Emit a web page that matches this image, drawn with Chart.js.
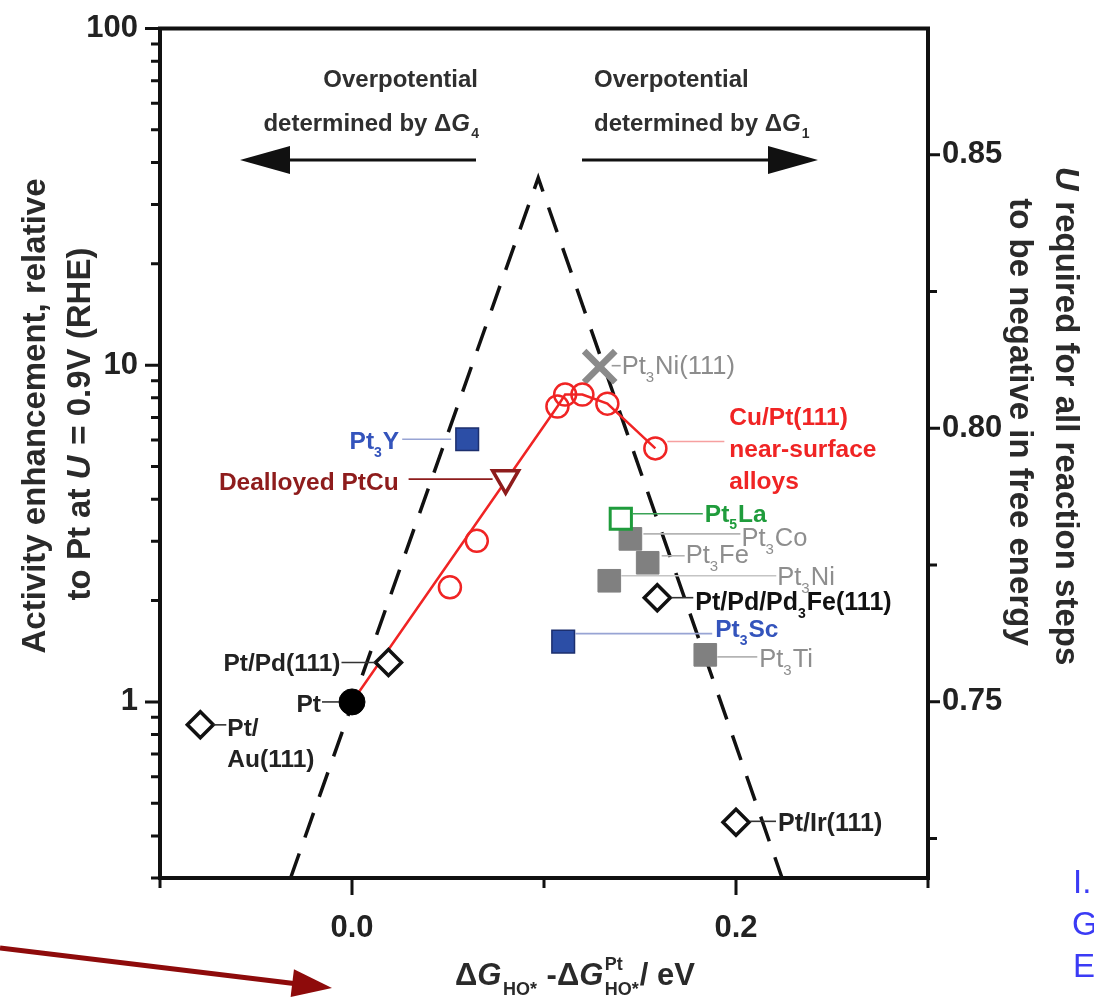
<!DOCTYPE html>
<html>
<head>
<meta charset="utf-8">
<script src="https://cdn.jsdelivr.net/npm/chart.js@4.4.0/dist/chart.umd.min.js"></script>
<style>
  html, body { margin: 0; padding: 0; background: #fff; }
  #wrap { width: 1094px; height: 1001px; position: relative; }
</style>
</head>
<body>
<div id="wrap"><canvas id="chart" width="1094" height="1001"></canvas></div>
<script>
/* ---------- Data ---------- */
// x = dG(HO*) - dG(HO*, Pt) in eV, y = activity enhancement relative to Pt
const PT_X = [0];
const PT_Y = [1];

// open diamonds: Pt/Au(111), Pt/Pd(111), Pt/Pd/Pd3Fe(111), Pt/Ir(111)
const DIAMOND_X = [-0.079, 0.019, 0.159, 0.200];
const DIAMOND_Y = [0.855, 1.31, 2.04, 0.439];

// Cu/Pt(111) near-surface alloys
const CU_X = [0.051, 0.065, 0.107, 0.111, 0.120, 0.133, 0.158];
const CU_Y = [2.19, 3.01, 7.54, 8.18, 8.18, 7.69, 5.66];

// red line through the Cu/Pt(111) set, starting at Pt
const FIT_X = [0, 0.107, 0.111, 0.120, 0.133, 0.158];
const FIT_Y = [1, 7.54, 8.18, 8.18, 7.69, 5.66];

const DEALLOY_X = [0.080];
const DEALLOY_Y = [4.62];

// grey bulk alloys: Pt3Co, Pt3Fe, Pt3Ni, Pt3Ti
const GREY_X = [0.145, 0.154, 0.134, 0.184];
const GREY_Y = [3.05, 2.59, 2.29, 1.38];

// blue: Pt3Y, Pt3Sc
const BLUE_X = [0.060, 0.110];
const BLUE_Y = [6.03, 1.51];

const LA_X = [0.140];
const LA_Y = [3.50];

const NI111_X = [0.129];
const NI111_Y = [9.9];

// dashed volcano
const VOLCANO_X = [-0.032, 0.097, 0.224];
const VOLCANO_Y = [0.3, 36.0, 0.3];

/* ---------- Axes ---------- */
const X_TICKS = [-0.1, 0, 0.1, 0.2, 0.3];
const X_TICK_LABELS = ['', '0.0', '', '0.2', ''];
const Y_TICKS = [0.3, 0.4, 0.5, 0.6, 0.7, 0.8, 0.9, 1, 2, 3, 4, 5, 6, 7, 8, 9,
                 10, 20, 30, 40, 50, 60, 70, 80, 90, 100];
const Y_MAJOR = [1, 10, 100];
const U_TICKS = [0.725, 0.75, 0.775, 0.80, 0.825, 0.85];
const U_MAJOR = [0.75, 0.80, 0.85];
const U_MIN = 0.7178, U_MAX = 0.8731;

const FONT = '"Liberation Sans", Arial, Helvetica, sans-serif';
const RED = '#f02424';
const GREY = '#808080';
const BLUE = '#2c4ea6';
const GREEN = '#1f9c3c';
const DARKRED = '#8e1c1c';

const pts = (xs, ys) => xs.map((x, i) => ({x: x, y: ys[i]}));

/* ---------- Labels next to the markers (pixel offsets from marker) ---------- */
const LB = 24.5;   // bold label size
const LG = 25.5;   // grey label size
const LABELS = [
  {ds: 'diamond', i: 0, line: [13, 26, 0], tx: 27, ty: 2, align: 'left', color: '#222', bold: true, size: LB, lines: [['Pt/'], ['Au(111)']], gap: 31},
  {ds: 'pt', i: 0, line: [-30, -13, 0], tx: -31, ty: 1, align: 'right', color: '#222', bold: true, size: LB, lines: [['Pt']]},
  {ds: 'diamond', i: 1, line: [-47, -13, 0], tx: -48, ty: 0, align: 'right', color: '#222', bold: true, size: LB, lines: [['Pt/Pd(111)']]},
  {ds: 'diamond', i: 2, line: [14, 36, 0], tx: 38, ty: 3, align: 'left', color: '#111', bold: true, size: 25, lines: [['Pt/Pd/Pd', {sub: '3'}, 'Fe(111)']]},
  {ds: 'diamond', i: 3, line: [14, 40, -1], tx: 42, ty: 0, align: 'left', color: '#222', bold: true, size: 25, lines: [['Pt/Ir(111)']]},
  {ds: 'blue', i: 0, line: [-65, -16, 0], lineColor: '#98a4d4', tx: -68, ty: 1, align: 'right', color: '#3454bc', bold: true, size: LB, lines: [['Pt', {sub: '3'}, 'Y']]},
  {ds: 'blue', i: 1, line: [12, 149, -8], lineColor: '#98a4d4', tx: 152, ty: -13, align: 'left', color: '#3454bc', bold: true, size: LB, lines: [['Pt', {sub: '3'}, 'Sc']]},
  {ds: 'dealloy', i: 0, line: [-97, -13, 1], lineColor: DARKRED, tx: -107, ty: 3, align: 'right', color: DARKRED, bold: true, size: LB, lines: [['Dealloyed PtCu']]},
  {ds: 'ni111', i: 0, line: [12, 21, -1], lineColor: '#999', tx: 22, ty: -2, align: 'left', color: '#8c8c8c', bold: false, size: LG, lines: [['Pt', {sub: '3'}, 'Ni(111)']]},
  {ds: 'cu', i: 6, line: [12, 69, -7], lineColor: '#f6a0a0', tx: 74, ty: -32, align: 'left', color: RED, bold: true, size: LB, lines: [['Cu/Pt(111)'], ['near-surface'], ['alloys']], gap: 32},
  {ds: 'la', i: 0, line: [12, 82, -5], lineColor: '#3aa356', tx: 84, ty: -6, align: 'left', color: GREEN, bold: true, size: LB, lines: [['Pt', {sub: '5'}, 'La']]},
  {ds: 'grey', i: 0, line: [13, 110, -5], lineColor: '#b4b4b4', tx: 111, ty: -2, align: 'left', color: '#8e8e8e', bold: false, size: LG, lines: [['Pt', {sub: '3'}, 'Co']]},
  {ds: 'grey', i: 1, line: [14, 37, -7], lineColor: '#b4b4b4', tx: 38, ty: -9, align: 'left', color: '#8e8e8e', bold: false, size: LG, lines: [['Pt', {sub: '3'}, 'Fe']]},
  {ds: 'grey', i: 2, line: [12, 167, -5], lineColor: '#c4c4c4', tx: 168, ty: -5, align: 'left', color: '#8e8e8e', bold: false, size: LG, lines: [['Pt', {sub: '3'}, 'Ni']]},
  {ds: 'grey', i: 3, line: [12, 52, 2], lineColor: '#b4b4b4', tx: 54, ty: 3, align: 'left', color: '#8e8e8e', bold: false, size: LG, lines: [['Pt', {sub: '3'}, 'Ti']]}
];

/* ---------- Rich text helpers ---------- */
function fontStr(size, bold, italic) {
  return (italic ? 'italic ' : '') + (bold ? 'bold ' : '') + size + 'px ' + FONT;
}

function segWidth(ctx, s, size, bold) {
  if (typeof s === 'string') { ctx.font = fontStr(size, bold); return ctx.measureText(s).width; }
  if (s.it) { ctx.font = fontStr(size, bold, true); return ctx.measureText(s.it).width + size * 0.05; }
  ctx.font = fontStr(Math.round(size * 0.58), bold);
  return Math.max(s.sub ? ctx.measureText(s.sub).width : 0, s.sup ? ctx.measureText(s.sup).width : 0) + 1;
}

// y is the vertical middle of the main text
function drawRich(ctx, segs, x, y, o) {
  const size = o.size, bold = o.bold;
  const total = segs.reduce((a, s) => a + segWidth(ctx, s, size, bold), 0);
  let cx = o.align === 'right' ? x - total : (o.align === 'center' ? x - total / 2 : x);
  const base = y + size * 0.36;
  ctx.fillStyle = o.color;
  ctx.textAlign = 'left';
  ctx.textBaseline = 'alphabetic';
  segs.forEach(s => {
    const w = segWidth(ctx, s, size, bold);
    if (typeof s === 'string') {
      ctx.font = fontStr(size, bold);
      ctx.fillText(s, cx, base);
    } else if (s.it) {
      ctx.font = fontStr(size, bold, true);
      ctx.fillText(s.it, cx, base);
    } else {
      ctx.font = fontStr(Math.round(size * 0.58), bold);
      if (s.sub) ctx.fillText(s.sub, cx, base + size * 0.32);
      if (s.sup) ctx.fillText(s.sup, cx, base - size * 0.5);
    }
    cx += w;
  });
}

function arrowHead(ctx, tipX, tipY, ang, len, half) {
  ctx.beginPath();
  ctx.moveTo(tipX, tipY);
  ctx.lineTo(tipX - len * Math.cos(ang) + half * Math.sin(ang), tipY - len * Math.sin(ang) - half * Math.cos(ang));
  ctx.lineTo(tipX - len * Math.cos(ang) - half * Math.sin(ang), tipY - len * Math.sin(ang) + half * Math.cos(ang));
  ctx.closePath();
  ctx.fill();
}

/* ---------- Plugin: frame, ticks, titles, annotations ---------- */
const decorations = {
  id: 'decorations',
  afterDatasetsDraw(chart) {
    const ctx = chart.ctx;

    // connectors + labels
    LABELS.forEach(l => {
      const meta = chart.getDatasetMeta(chart.data.datasets.findIndex(d => d.key === l.ds));
      const p = meta.data[l.i];
      ctx.save();
      ctx.strokeStyle = l.lineColor || '#333';
      ctx.lineWidth = 1.6;
      ctx.beginPath();
      ctx.moveTo(p.x + l.line[0], p.y + l.line[2]);
      ctx.lineTo(p.x + l.line[1], p.y + l.line[2]);
      ctx.stroke();
      l.lines.forEach((segs, k) => {
        drawRich(ctx, segs, p.x + l.tx, p.y + l.ty + k * (l.gap || 0), {size: l.size, bold: l.bold, color: l.color, align: l.align});
      });
      ctx.restore();
    });
  },
  afterDraw(chart) {
    const ctx = chart.ctx;
    const a = chart.chartArea;
    const sx = chart.scales.x, sy = chart.scales.y, su = chart.scales.y2;
    ctx.save();

    // frame
    ctx.strokeStyle = '#111';
    ctx.lineWidth = 4;
    ctx.strokeRect(a.left, a.top, a.right - a.left, a.bottom - a.top);

    // ticks
    ctx.lineWidth = 3;
    ctx.beginPath();
    sx.ticks.forEach(t => {
      const px = sx.getPixelForValue(t.value);
      const len = (t.value === 0 || t.value === 0.2) ? 17 : 10;
      ctx.moveTo(px, a.bottom); ctx.lineTo(px, a.bottom + len);
    });
    sy.ticks.forEach(t => {
      const py = sy.getPixelForValue(t.value);
      const len = Y_MAJOR.includes(t.value) ? 15 : 9;
      ctx.moveTo(a.left, py); ctx.lineTo(a.left - len, py);
    });
    su.ticks.forEach(t => {
      const py = su.getPixelForValue(t.value);
      const len = U_MAJOR.some(v => Math.abs(v - t.value) < 1e-6) ? 12 : 9;
      ctx.moveTo(a.right, py); ctx.lineTo(a.right + len, py);
    });
    ctx.stroke();

    const tt = {size: 33, bold: true, color: '#2a2a2a', align: 'center'};
    // left axis title
    ctx.save();
    ctx.translate(33, 416); ctx.rotate(-Math.PI / 2);
    drawRich(ctx, ['Activity enhancement, relative'], 0, 0, tt);
    ctx.restore();
    ctx.save();
    ctx.translate(78, 424); ctx.rotate(-Math.PI / 2);
    drawRich(ctx, ['to Pt at ', {it: 'U'}, ' = 0.9V (RHE)'], 0, 0, tt);
    ctx.restore();

    // right axis title
    ctx.save();
    ctx.translate(1068, 416); ctx.rotate(Math.PI / 2);
    drawRich(ctx, [{it: 'U'}, ' required for all reaction steps'], 0, 0, tt);
    ctx.restore();
    ctx.save();
    ctx.translate(1022, 422); ctx.rotate(Math.PI / 2);
    drawRich(ctx, ['to be negative in free energy'], 0, 0, tt);
    ctx.restore();

    // x axis title
    drawRich(ctx, ['\u0394', {it: 'G'}, {sub: 'HO*'}, ' -\u0394', {it: 'G'}, {sup: 'Pt', sub: 'HO*'}, '/ eV'],
      575, 974, {size: 31, bold: true, color: '#2a2a2a', align: 'center'});

    // top annotations
    const tc = {size: 24, bold: true, color: '#2f2f2f'};
    drawRich(ctx, ['Overpotential'], 478, 78, Object.assign({align: 'right'}, tc));
    drawRich(ctx, ['determined by \u0394', {it: 'G'}, {sub: '4'}], 480, 122, Object.assign({align: 'right'}, tc));
    drawRich(ctx, ['Overpotential'], 594, 78, Object.assign({align: 'left'}, tc));
    drawRich(ctx, ['determined by \u0394', {it: 'G'}, {sub: '1'}], 594, 122, Object.assign({align: 'left'}, tc));

    ctx.fillStyle = '#111';
    ctx.strokeStyle = '#111';
    ctx.lineWidth = 3;
    ctx.beginPath();
    ctx.moveTo(476, 160); ctx.lineTo(280, 160);
    ctx.moveTo(582, 160); ctx.lineTo(778, 160);
    ctx.stroke();
    arrowHead(ctx, 240, 160, Math.PI, 50, 14);
    arrowHead(ctx, 818, 160, 0, 50, 14);

    // slide overlay: dark red arrow and cut-off blue text
    ctx.strokeStyle = '#8e0b0b';
    ctx.fillStyle = '#8e0b0b';
    ctx.lineWidth = 5;
    const ang = Math.atan2(40, 332);
    ctx.beginPath();
    ctx.moveTo(0, 948);
    ctx.lineTo(332 - 30 * Math.cos(ang), 988 - 30 * Math.sin(ang));
    ctx.stroke();
    arrowHead(ctx, 332, 988, ang, 40, 14);

    ctx.fillStyle = '#3b3bf5';
    ctx.font = '33px ' + FONT;
    ctx.textBaseline = 'middle';
    ctx.textAlign = 'left';
    ctx.fillText('I.', 1073, 884);
    ctx.fillText('G', 1072, 926);
    ctx.fillText('E', 1073, 968);

    ctx.restore();
  }
};

/* ---------- Chart ---------- */
const tickFont = {family: FONT, size: 31, weight: 'bold'};
const noPad = s => { s.paddingTop = 0; s.paddingBottom = 0; s.paddingLeft = 0; s.paddingRight = 0; };

new Chart(document.getElementById('chart'), {
  type: 'scatter',
  data: {
    datasets: [
      {key: 'pt', data: pts(PT_X, PT_Y), pointStyle: 'circle', pointRadius: 13,
       backgroundColor: '#000', borderColor: '#000', borderWidth: 1},
      {key: 'diamond', data: pts(DIAMOND_X, DIAMOND_Y), pointStyle: 'rectRot', pointRadius: 13,
       backgroundColor: '#fff', borderColor: '#111', borderWidth: 3.5},
      {key: 'dealloy', data: pts(DEALLOY_X, DEALLOY_Y), pointStyle: 'triangle', pointRotation: 180, pointRadius: 15,
       backgroundColor: '#fff', borderColor: DARKRED, borderWidth: 3.5},
      {key: 'cu', data: pts(CU_X, CU_Y), pointStyle: 'circle', pointRadius: 11,
       backgroundColor: 'rgba(255,255,255,0)', borderColor: RED, borderWidth: 2.5},
      {key: 'la', data: pts(LA_X, LA_Y), pointStyle: 'rect', pointRadius: 15,
       backgroundColor: '#fff', borderColor: GREEN, borderWidth: 3},
      {key: 'grey', data: pts(GREY_X, GREY_Y), pointStyle: 'rect', pointRadius: 16,
       backgroundColor: GREY, borderColor: GREY, borderWidth: 1},
      {key: 'blue', data: pts(BLUE_X, BLUE_Y), pointStyle: 'rect', pointRadius: 16,
       backgroundColor: BLUE, borderColor: '#1c2f6e', borderWidth: 1.5},
      {key: 'ni111', data: pts(NI111_X, NI111_Y), pointStyle: 'crossRot', pointRadius: 22,
       borderColor: '#8a8a8a', borderWidth: 6.5},
      {key: 'fit', data: pts(FIT_X, FIT_Y), showLine: true, pointRadius: 0,
       borderColor: RED, borderWidth: 2.5, tension: 0},
      {key: 'volcano', data: pts(VOLCANO_X, VOLCANO_Y), showLine: true, pointRadius: 0,
       borderColor: '#111', borderWidth: 3.5, borderDash: [26, 17], tension: 0}
    ]
  },
  options: {
    responsive: false,
    animation: false,
    layout: {padding: {top: 25, left: 0, right: 0, bottom: 0}},
    plugins: {legend: {display: false}, tooltip: {enabled: false}},
    scales: {
      x: {
        type: 'linear', position: 'bottom', min: -0.1, max: 0.3,
        afterBuildTicks: s => { s.ticks = X_TICKS.map(v => ({value: v})); },
        afterFit: s => { s.height = 123; noPad(s); },
        ticks: {callback: (v, i) => X_TICK_LABELS[i], font: tickFont, color: '#222', padding: 32, maxRotation: 0, autoSkip: false},
        grid: {display: false, drawTicks: false},
        border: {display: false}
      },
      y: {
        type: 'logarithmic', position: 'left', min: 0.3, max: 100,
        afterBuildTicks: s => { s.ticks = Y_TICKS.map(v => ({value: v})); },
        afterFit: s => { s.width = 160; noPad(s); },
        ticks: {callback: v => Y_MAJOR.includes(v) ? String(v) : '', font: tickFont, color: '#222', padding: 22, autoSkip: false},
        grid: {display: false, drawTicks: false},
        border: {display: false}
      },
      y2: {
        type: 'linear', position: 'right', min: U_MIN, max: U_MAX,
        afterBuildTicks: s => { s.ticks = U_TICKS.map(v => ({value: v})); },
        afterFit: s => { s.width = 166; noPad(s); },
        ticks: {callback: v => U_MAJOR.some(m => Math.abs(m - v) < 1e-6) ? v.toFixed(2) : '', font: tickFont, color: '#222', padding: 14, autoSkip: false},
        grid: {display: false, drawTicks: false},
        border: {display: false}
      }
    }
  },
  plugins: [decorations]
});
</script>
</body>
</html>
